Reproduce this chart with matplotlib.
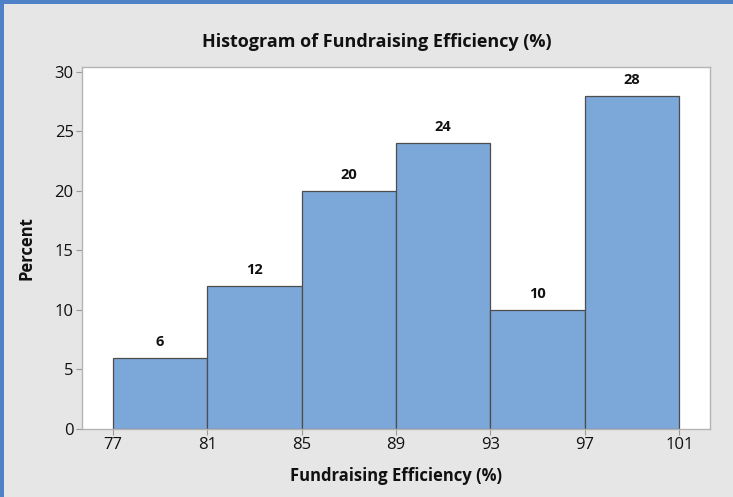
import matplotlib.pyplot as plt
from matplotlib.patches import Rectangle

bin_edges = [77, 81, 85, 89, 93, 97, 101]
percents = [6, 12, 20, 24, 10, 28]

plt.rcParams["font.family"] = ["Open Sans", "DejaVu Sans"]

fig = plt.figure(figsize=(7.33, 4.97), dpi=100)
fig.patch.set_facecolor("#e6e6e6")

# blue frame along the top and left edges
fig.add_artist(Rectangle((0, 0), 4 / 733, 1, transform=fig.transFigure,
                         color="#4f81c7", lw=0))
fig.add_artist(Rectangle((0, 1 - 4 / 497), 1, 4 / 497, transform=fig.transFigure,
                         color="#4f81c7", lw=0))

ax = fig.add_axes([82 / 733, 1 - 429 / 497, 628 / 733, 362 / 497])
ax.set_facecolor("white")

widths = [bin_edges[i + 1] - bin_edges[i] for i in range(len(percents))]
bars = ax.bar(bin_edges[:-1], percents, width=widths, align="edge",
              color="#7ba7d9", edgecolor="#4d4d4d", linewidth=0.9)

for b, v in zip(bars, percents):
    ax.text(b.get_x() + b.get_width() / 2, v + 0.75, str(v),
            ha="center", va="bottom", fontsize=10.5, fontweight="bold", color="#111111")

ax.set_xlim(75.7, 102.3)
ax.set_ylim(0, 30.4)
ax.set_xticks(bin_edges)
ax.set_yticks([0, 5, 10, 15, 20, 25, 30])

for s in ax.spines.values():
    s.set_color("#b4b4b4")
    s.set_linewidth(1.0)
ax.tick_params(axis="both", colors="#9a9a9a", length=4, width=0.8,
               labelsize=12, labelcolor="#111111", pad=2)

ax.set_xlabel("Fundraising Efficiency (%)", fontsize=12, fontweight="bold",
              color="#111111", labelpad=10)
ax.set_ylabel("Percent", fontsize=12, fontweight="bold", color="#111111",
              labelpad=14)

fig.text(377 / 733, 1 - 42 / 497, "Histogram of Fundraising Efficiency (%)",
         ha="center", va="center", fontsize=13, fontweight="bold", color="#111111")

fig.savefig("out.png", dpi=100, facecolor=fig.get_facecolor())
